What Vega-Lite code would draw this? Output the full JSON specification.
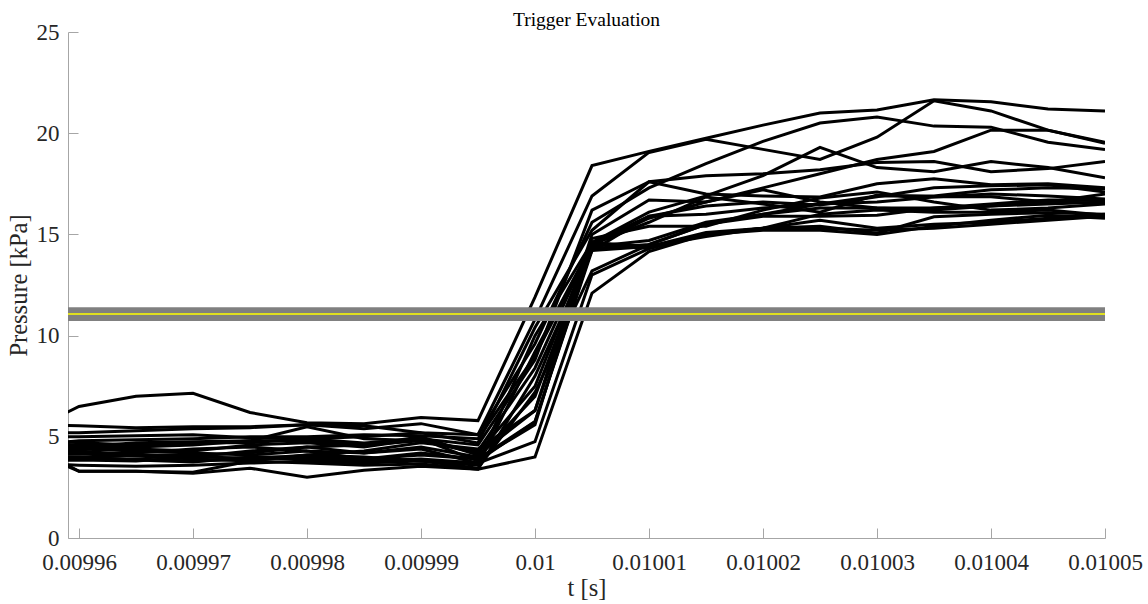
{
  "$schema": "https://vega.github.io/schema/vega-lite/v6.json",
  "width": 1037,
  "height": 506,
  "autosize": {"type": "none"},
  "padding": {"left": 68, "top": 32, "right": 43, "bottom": 66},
  "background": "white",
  "config": {"font": "Liberation Serif", "view": {"stroke": null}},
  "title": {"text": "Trigger Evaluation", "font": "Liberation Serif", "fontSize": 19.5, "fontWeight": "normal", "color": "#000000", "offset": 4, "dy": 13},
  "datasets": {
    "traces": [
      {"s":1,"t":0.009955,"p":5.1},{"s":1,"t":0.00996,"p":6.5},{"s":1,"t":0.009965,"p":7.0},{"s":1,"t":0.00997,"p":7.15},{"s":1,"t":0.009975,"p":6.2},{"s":1,"t":0.00998,"p":5.7},{"s":1,"t":0.009985,"p":5.65},{"s":1,"t":0.00999,"p":5.95},{"s":1,"t":0.009995,"p":5.8},{"s":1,"t":0.01,"p":11.9},{"s":1,"t":0.010005,"p":18.4},{"s":1,"t":0.01001,"p":19.1},{"s":1,"t":0.010015,"p":19.75},{"s":1,"t":0.01002,"p":20.4},{"s":1,"t":0.010025,"p":21.0},{"s":1,"t":0.01003,"p":21.15},{"s":1,"t":0.010035,"p":21.65},{"s":1,"t":0.01004,"p":21.55},{"s":1,"t":0.010045,"p":21.2},{"s":1,"t":0.01005,"p":21.1},
      {"s":2,"t":0.009955,"p":5.6},{"s":2,"t":0.00996,"p":5.55},{"s":2,"t":0.009965,"p":5.45},{"s":2,"t":0.00997,"p":5.5},{"s":2,"t":0.009975,"p":5.5},{"s":2,"t":0.00998,"p":5.6},{"s":2,"t":0.009985,"p":5.55},{"s":2,"t":0.00999,"p":5.2},{"s":2,"t":0.009995,"p":5.1},{"s":2,"t":0.01,"p":10.8},{"s":2,"t":0.010005,"p":16.9},{"s":2,"t":0.01001,"p":19.05},{"s":2,"t":0.010015,"p":19.7},{"s":2,"t":0.01002,"p":19.2},{"s":2,"t":0.010025,"p":18.7},{"s":2,"t":0.01003,"p":19.8},{"s":2,"t":0.010035,"p":21.6},{"s":2,"t":0.01004,"p":21.1},{"s":2,"t":0.010045,"p":20.15},{"s":2,"t":0.01005,"p":19.5},
      {"s":3,"t":0.009955,"p":5.2},{"s":3,"t":0.00996,"p":5.2},{"s":3,"t":0.009965,"p":5.3},{"s":3,"t":0.00997,"p":5.4},{"s":3,"t":0.009975,"p":5.45},{"s":3,"t":0.00998,"p":5.6},{"s":3,"t":0.009985,"p":5.4},{"s":3,"t":0.00999,"p":5.65},{"s":3,"t":0.009995,"p":5.1},{"s":3,"t":0.01,"p":9.6},{"s":3,"t":0.010005,"p":15.6},{"s":3,"t":0.01001,"p":17.3},{"s":3,"t":0.010015,"p":18.5},{"s":3,"t":0.01002,"p":19.6},{"s":3,"t":0.010025,"p":20.5},{"s":3,"t":0.01003,"p":20.8},{"s":3,"t":0.010035,"p":20.35},{"s":3,"t":0.01004,"p":20.3},{"s":3,"t":0.010045,"p":19.55},{"s":3,"t":0.01005,"p":19.2},
      {"s":4,"t":0.009955,"p":4.6},{"s":4,"t":0.00996,"p":4.8},{"s":4,"t":0.009965,"p":4.85},{"s":4,"t":0.00997,"p":4.9},{"s":4,"t":0.009975,"p":5.0},{"s":4,"t":0.00998,"p":5.0},{"s":4,"t":0.009985,"p":5.1},{"s":4,"t":0.00999,"p":5.05},{"s":4,"t":0.009995,"p":4.9},{"s":4,"t":0.01,"p":9.0},{"s":4,"t":0.010005,"p":14.5},{"s":4,"t":0.01001,"p":15.8},{"s":4,"t":0.010015,"p":16.6},{"s":4,"t":0.01002,"p":17.3},{"s":4,"t":0.010025,"p":18.0},{"s":4,"t":0.01003,"p":18.7},{"s":4,"t":0.010035,"p":19.1},{"s":4,"t":0.01004,"p":20.15},{"s":4,"t":0.010045,"p":20.15},{"s":4,"t":0.01005,"p":19.55},
      {"s":5,"t":0.009955,"p":5.0},{"s":5,"t":0.00996,"p":5.0},{"s":5,"t":0.009965,"p":5.05},{"s":5,"t":0.00997,"p":5.1},{"s":5,"t":0.009975,"p":4.95},{"s":5,"t":0.00998,"p":4.9},{"s":5,"t":0.009985,"p":5.0},{"s":5,"t":0.00999,"p":5.2},{"s":5,"t":0.009995,"p":4.7},{"s":5,"t":0.01,"p":10.4},{"s":5,"t":0.010005,"p":15.2},{"s":5,"t":0.01001,"p":17.6},{"s":5,"t":0.010015,"p":17.9},{"s":5,"t":0.01002,"p":18.0},{"s":5,"t":0.010025,"p":18.2},{"s":5,"t":0.01003,"p":18.55},{"s":5,"t":0.010035,"p":18.6},{"s":5,"t":0.01004,"p":18.1},{"s":5,"t":0.010045,"p":18.25},{"s":5,"t":0.01005,"p":18.6},
      {"s":6,"t":0.009955,"p":4.7},{"s":6,"t":0.00996,"p":4.6},{"s":6,"t":0.009965,"p":4.5},{"s":6,"t":0.00997,"p":4.6},{"s":6,"t":0.009975,"p":4.8},{"s":6,"t":0.00998,"p":5.5},{"s":6,"t":0.009985,"p":4.9},{"s":6,"t":0.00999,"p":4.8},{"s":6,"t":0.009995,"p":4.3},{"s":6,"t":0.01,"p":8.4},{"s":6,"t":0.010005,"p":14.6},{"s":6,"t":0.01001,"p":16.1},{"s":6,"t":0.010015,"p":16.9},{"s":6,"t":0.01002,"p":17.9},{"s":6,"t":0.010025,"p":19.3},{"s":6,"t":0.01003,"p":18.3},{"s":6,"t":0.010035,"p":18.1},{"s":6,"t":0.01004,"p":18.6},{"s":6,"t":0.010045,"p":18.3},{"s":6,"t":0.01005,"p":17.8},
      {"s":7,"t":0.009955,"p":4.4},{"s":7,"t":0.00996,"p":4.5},{"s":7,"t":0.009965,"p":4.4},{"s":7,"t":0.00997,"p":4.3},{"s":7,"t":0.009975,"p":4.6},{"s":7,"t":0.00998,"p":4.7},{"s":7,"t":0.009985,"p":4.5},{"s":7,"t":0.00999,"p":4.9},{"s":7,"t":0.009995,"p":4.6},{"s":7,"t":0.01,"p":8.8},{"s":7,"t":0.010005,"p":16.2},{"s":7,"t":0.01001,"p":17.6},{"s":7,"t":0.010015,"p":17.0},{"s":7,"t":0.01002,"p":16.9},{"s":7,"t":0.010025,"p":16.85},{"s":7,"t":0.01003,"p":17.5},{"s":7,"t":0.010035,"p":17.75},{"s":7,"t":0.01004,"p":17.45},{"s":7,"t":0.010045,"p":17.5},{"s":7,"t":0.01005,"p":17.3},
      {"s":8,"t":0.009955,"p":4.3},{"s":8,"t":0.00996,"p":4.3},{"s":8,"t":0.009965,"p":4.1},{"s":8,"t":0.00997,"p":4.0},{"s":8,"t":0.009975,"p":4.3},{"s":8,"t":0.00998,"p":4.5},{"s":8,"t":0.009985,"p":4.6},{"s":8,"t":0.00999,"p":4.8},{"s":8,"t":0.009995,"p":4.2},{"s":8,"t":0.01,"p":7.5},{"s":8,"t":0.010005,"p":14.6},{"s":8,"t":0.01001,"p":15.9},{"s":8,"t":0.010015,"p":16.4},{"s":8,"t":0.01002,"p":16.6},{"s":8,"t":0.010025,"p":16.45},{"s":8,"t":0.01003,"p":16.86},{"s":8,"t":0.010035,"p":17.3},{"s":8,"t":0.01004,"p":17.4},{"s":8,"t":0.010045,"p":17.45},{"s":8,"t":0.01005,"p":17.1},
      {"s":9,"t":0.009955,"p":4.2},{"s":9,"t":0.00996,"p":4.15},{"s":9,"t":0.009965,"p":4.2},{"s":9,"t":0.00997,"p":4.4},{"s":9,"t":0.009975,"p":4.5},{"s":9,"t":0.00998,"p":4.3},{"s":9,"t":0.009985,"p":4.2},{"s":9,"t":0.00999,"p":4.5},{"s":9,"t":0.009995,"p":4.0},{"s":9,"t":0.01,"p":7.0},{"s":9,"t":0.010005,"p":14.5},{"s":9,"t":0.01001,"p":15.6},{"s":9,"t":0.010015,"p":16.85},{"s":9,"t":0.01002,"p":16.5},{"s":9,"t":0.010025,"p":16.1},{"s":9,"t":0.01003,"p":16.95},{"s":9,"t":0.010035,"p":16.86},{"s":9,"t":0.01004,"p":16.86},{"s":9,"t":0.010045,"p":16.6},{"s":9,"t":0.01005,"p":16.55},
      {"s":10,"t":0.009955,"p":4.0},{"s":10,"t":0.00996,"p":3.95},{"s":10,"t":0.009965,"p":3.9},{"s":10,"t":0.00997,"p":3.8},{"s":10,"t":0.009975,"p":3.9},{"s":10,"t":0.00998,"p":4.1},{"s":10,"t":0.009985,"p":4.3},{"s":10,"t":0.00999,"p":4.7},{"s":10,"t":0.009995,"p":4.4},{"s":10,"t":0.01,"p":6.3},{"s":10,"t":0.010005,"p":14.4},{"s":10,"t":0.01001,"p":14.7},{"s":10,"t":0.010015,"p":15.6},{"s":10,"t":0.01002,"p":16.0},{"s":10,"t":0.010025,"p":16.3},{"s":10,"t":0.01003,"p":16.3},{"s":10,"t":0.010035,"p":16.3},{"s":10,"t":0.01004,"p":16.5},{"s":10,"t":0.010045,"p":16.7},{"s":10,"t":0.01005,"p":16.7},
      {"s":11,"t":0.009955,"p":4.1},{"s":11,"t":0.00996,"p":4.0},{"s":11,"t":0.009965,"p":3.85},{"s":11,"t":0.00997,"p":3.75},{"s":11,"t":0.009975,"p":4.0},{"s":11,"t":0.00998,"p":4.0},{"s":11,"t":0.009985,"p":3.9},{"s":11,"t":0.00999,"p":4.1},{"s":11,"t":0.009995,"p":3.9},{"s":11,"t":0.01,"p":5.75},{"s":11,"t":0.010005,"p":14.3},{"s":11,"t":0.01001,"p":14.5},{"s":11,"t":0.010015,"p":15.5},{"s":11,"t":0.01002,"p":15.9},{"s":11,"t":0.010025,"p":15.9},{"s":11,"t":0.01003,"p":15.95},{"s":11,"t":0.010035,"p":16.3},{"s":11,"t":0.01004,"p":16.4},{"s":11,"t":0.010045,"p":16.6},{"s":11,"t":0.01005,"p":17.0},
      {"s":12,"t":0.009955,"p":3.8},{"s":12,"t":0.00996,"p":3.85},{"s":12,"t":0.009965,"p":3.8},{"s":12,"t":0.00997,"p":4.0},{"s":12,"t":0.009975,"p":3.95},{"s":12,"t":0.00998,"p":3.9},{"s":12,"t":0.009985,"p":3.8},{"s":12,"t":0.00999,"p":3.9},{"s":12,"t":0.009995,"p":3.7},{"s":12,"t":0.01,"p":10.0},{"s":12,"t":0.010005,"p":14.6},{"s":12,"t":0.01001,"p":14.4},{"s":12,"t":0.010015,"p":15.1},{"s":12,"t":0.01002,"p":15.3},{"s":12,"t":0.010025,"p":15.4},{"s":12,"t":0.01003,"p":15.06},{"s":12,"t":0.010035,"p":15.87},{"s":12,"t":0.01004,"p":16.0},{"s":12,"t":0.010045,"p":16.07},{"s":12,"t":0.01005,"p":16.0},
      {"s":13,"t":0.009955,"p":3.7},{"s":13,"t":0.00996,"p":3.6},{"s":13,"t":0.009965,"p":3.55},{"s":13,"t":0.00997,"p":3.6},{"s":13,"t":0.009975,"p":3.7},{"s":13,"t":0.00998,"p":3.8},{"s":13,"t":0.009985,"p":3.7},{"s":13,"t":0.00999,"p":3.8},{"s":13,"t":0.009995,"p":3.6},{"s":13,"t":0.01,"p":9.2},{"s":13,"t":0.010005,"p":14.5},{"s":13,"t":0.01001,"p":14.3},{"s":13,"t":0.010015,"p":15.0},{"s":13,"t":0.01002,"p":15.2},{"s":13,"t":0.010025,"p":15.2},{"s":13,"t":0.01003,"p":15.0},{"s":13,"t":0.010035,"p":15.4},{"s":13,"t":0.01004,"p":15.7},{"s":13,"t":0.010045,"p":15.95},{"s":13,"t":0.01005,"p":15.8},
      {"s":14,"t":0.009955,"p":4.8},{"s":14,"t":0.00996,"p":3.3},{"s":14,"t":0.009965,"p":3.3},{"s":14,"t":0.00997,"p":3.2},{"s":14,"t":0.009975,"p":3.45},{"s":14,"t":0.00998,"p":3.0},{"s":14,"t":0.009985,"p":3.35},{"s":14,"t":0.00999,"p":3.55},{"s":14,"t":0.009995,"p":3.4},{"s":14,"t":0.01,"p":8.0},{"s":14,"t":0.010005,"p":14.2},{"s":14,"t":0.01001,"p":14.4},{"s":14,"t":0.010015,"p":14.9},{"s":14,"t":0.01002,"p":15.3},{"s":14,"t":0.010025,"p":16.0},{"s":14,"t":0.01003,"p":16.2},{"s":14,"t":0.010035,"p":16.1},{"s":14,"t":0.01004,"p":16.1},{"s":14,"t":0.010045,"p":16.2},{"s":14,"t":0.01005,"p":15.95},
      {"s":15,"t":0.009955,"p":4.5},{"s":15,"t":0.00996,"p":3.3},{"s":15,"t":0.009965,"p":3.3},{"s":15,"t":0.00997,"p":3.25},{"s":15,"t":0.009975,"p":3.8},{"s":15,"t":0.00998,"p":4.1},{"s":15,"t":0.009985,"p":4.0},{"s":15,"t":0.00999,"p":3.8},{"s":15,"t":0.009995,"p":3.45},{"s":15,"t":0.01,"p":7.2},{"s":15,"t":0.010005,"p":13.2},{"s":15,"t":0.01001,"p":14.5},{"s":15,"t":0.010015,"p":15.5},{"s":15,"t":0.01002,"p":16.0},{"s":15,"t":0.010025,"p":16.5},{"s":15,"t":0.01003,"p":16.6},{"s":15,"t":0.010035,"p":16.85},{"s":15,"t":0.01004,"p":17.0},{"s":15,"t":0.010045,"p":16.9},{"s":15,"t":0.01005,"p":16.75},
      {"s":16,"t":0.009955,"p":4.4},{"s":16,"t":0.00996,"p":4.5},{"s":16,"t":0.009965,"p":4.7},{"s":16,"t":0.00997,"p":4.75},{"s":16,"t":0.009975,"p":4.8},{"s":16,"t":0.00998,"p":4.8},{"s":16,"t":0.009985,"p":4.6},{"s":16,"t":0.00999,"p":5.0},{"s":16,"t":0.009995,"p":4.1},{"s":16,"t":0.01,"p":6.3},{"s":16,"t":0.010005,"p":15.0},{"s":16,"t":0.01001,"p":16.7},{"s":16,"t":0.010015,"p":16.6},{"s":16,"t":0.01002,"p":17.2},{"s":16,"t":0.010025,"p":16.6},{"s":16,"t":0.01003,"p":16.3},{"s":16,"t":0.010035,"p":16.2},{"s":16,"t":0.01004,"p":16.4},{"s":16,"t":0.010045,"p":16.5},{"s":16,"t":0.01005,"p":16.6},
      {"s":17,"t":0.009955,"p":4.9},{"s":17,"t":0.00996,"p":4.7},{"s":17,"t":0.009965,"p":4.6},{"s":17,"t":0.00997,"p":4.7},{"s":17,"t":0.009975,"p":4.7},{"s":17,"t":0.00998,"p":4.9},{"s":17,"t":0.009985,"p":4.7},{"s":17,"t":0.00999,"p":4.9},{"s":17,"t":0.009995,"p":3.8},{"s":17,"t":0.01,"p":5.75},{"s":17,"t":0.010005,"p":14.2},{"s":17,"t":0.01001,"p":15.9},{"s":17,"t":0.010015,"p":16.0},{"s":17,"t":0.01002,"p":16.3},{"s":17,"t":0.010025,"p":16.5},{"s":17,"t":0.01003,"p":16.9},{"s":17,"t":0.010035,"p":16.9},{"s":17,"t":0.01004,"p":17.2},{"s":17,"t":0.010045,"p":17.3},{"s":17,"t":0.01005,"p":17.25},
      {"s":18,"t":0.009955,"p":4.5},{"s":18,"t":0.00996,"p":4.4},{"s":18,"t":0.009965,"p":4.3},{"s":18,"t":0.00997,"p":4.2},{"s":18,"t":0.009975,"p":4.1},{"s":18,"t":0.00998,"p":4.3},{"s":18,"t":0.009985,"p":3.9},{"s":18,"t":0.00999,"p":4.2},{"s":18,"t":0.009995,"p":3.9},{"s":18,"t":0.01,"p":5.6},{"s":18,"t":0.010005,"p":14.8},{"s":18,"t":0.01001,"p":15.4},{"s":18,"t":0.010015,"p":15.4},{"s":18,"t":0.01002,"p":16.2},{"s":18,"t":0.010025,"p":16.8},{"s":18,"t":0.01003,"p":17.1},{"s":18,"t":0.010035,"p":16.6},{"s":18,"t":0.01004,"p":16.2},{"s":18,"t":0.010045,"p":16.3},{"s":18,"t":0.01005,"p":16.5},
      {"s":19,"t":0.009955,"p":4.0},{"s":19,"t":0.00996,"p":4.0},{"s":19,"t":0.009965,"p":4.1},{"s":19,"t":0.00997,"p":4.1},{"s":19,"t":0.009975,"p":4.2},{"s":19,"t":0.00998,"p":4.5},{"s":19,"t":0.009985,"p":4.2},{"s":19,"t":0.00999,"p":4.4},{"s":19,"t":0.009995,"p":3.7},{"s":19,"t":0.01,"p":4.76},{"s":19,"t":0.010005,"p":13.0},{"s":19,"t":0.01001,"p":14.3},{"s":19,"t":0.010015,"p":15.0},{"s":19,"t":0.01002,"p":15.3},{"s":19,"t":0.010025,"p":15.7},{"s":19,"t":0.01003,"p":15.3},{"s":19,"t":0.010035,"p":15.5},{"s":19,"t":0.01004,"p":15.6},{"s":19,"t":0.010045,"p":15.8},{"s":19,"t":0.01005,"p":16.0},
      {"s":20,"t":0.009955,"p":4.3},{"s":20,"t":0.00996,"p":4.2},{"s":20,"t":0.009965,"p":4.05},{"s":20,"t":0.00997,"p":3.9},{"s":20,"t":0.009975,"p":3.8},{"s":20,"t":0.00998,"p":3.7},{"s":20,"t":0.009985,"p":3.6},{"s":20,"t":0.00999,"p":3.65},{"s":20,"t":0.009995,"p":3.4},{"s":20,"t":0.01,"p":4.0},{"s":20,"t":0.010005,"p":12.1},{"s":20,"t":0.01001,"p":14.15},{"s":20,"t":0.010015,"p":15.0},{"s":20,"t":0.01002,"p":15.3},{"s":20,"t":0.010025,"p":15.3},{"s":20,"t":0.01003,"p":15.2},{"s":20,"t":0.010035,"p":15.3},{"s":20,"t":0.01004,"p":15.5},{"s":20,"t":0.010045,"p":15.7},{"s":20,"t":0.01005,"p":15.9}
    ],
    "band": [{"lo": 10.72, "hi": 11.4, "thr": 11.07}]
  },
  "layer": [
    {
      "data": {"name": "traces"},
      "mark": {"type": "line", "color": "#000000", "strokeWidth": 3, "clip": true},
      "encoding": {
        "x": {"field": "t", "type": "quantitative",
          "scale": {"domain": [0.009959035, 0.01005], "nice": false, "zero": false},
          "axis": {"title": "t [s]", "values": [0.00996, 0.00997, 0.00998, 0.00999, 0.01, 0.01001, 0.01002, 0.01003, 0.01004, 0.01005],
            "format": ".5~f", "grid": false, "tickSize": -10, "labelPadding": 23, "labelFlush": false, "labelOverlap": false,
            "domainColor": "#a6a6a6", "tickColor": "#a6a6a6", "labelFont": "Liberation Serif", "labelFontSize": 23, "labelColor": "#262626",
            "titleFont": "Liberation Serif", "titleFontSize": 24.5, "titleFontWeight": "normal", "titleColor": "#262626", "titlePadding": 2}},
        "y": {"field": "p", "type": "quantitative",
          "scale": {"domain": [0, 25], "nice": false},
          "axis": {"title": "Pressure [kPa]", "values": [0, 5, 10, 15, 20, 25], "grid": false, "tickSize": -10, "labelPadding": 19,
            "labelFlush": false, "domainColor": "#a6a6a6", "tickColor": "#a6a6a6", "labelFont": "Liberation Serif", "labelFontSize": 23, "labelColor": "#262626",
            "titleFont": "Liberation Serif", "titleFontSize": 24.5, "titleFontWeight": "normal", "titleColor": "#262626", "titlePadding": 5}},
        "detail": {"field": "s", "type": "nominal"}
      }
    },
    {
      "data": {"name": "band"},
      "mark": {"type": "rect", "color": "#808080", "opacity": 1},
      "encoding": {"y": {"field": "lo", "type": "quantitative"}, "y2": {"field": "hi"}}
    },
    {
      "data": {"name": "band"},
      "mark": {"type": "rule", "color": "#ffff00", "strokeWidth": 1.5},
      "encoding": {"y": {"field": "thr", "type": "quantitative"}}
    }
  ]
}
